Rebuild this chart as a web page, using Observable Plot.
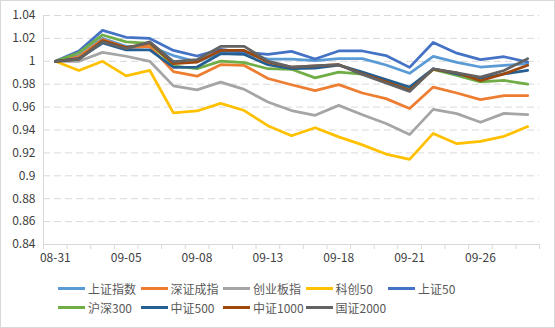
<!DOCTYPE html>
<html><head><meta charset="utf-8">
<script src="https://cdn.jsdelivr.net/npm/d3@7"></script>
<script src="https://cdn.jsdelivr.net/npm/@observablehq/plot@0.6"></script>
<style>
body{margin:0;background:#fff}
#chart{box-sizing:border-box;width:555px;height:328px;border:1px solid #d9d9d9;background:#fff;font-family:'Noto Sans CJK SC',sans-serif;overflow:hidden}
#chart svg{display:block}
#legend{display:grid;grid-template-columns:repeat(5,82.5px);padding-left:57px;margin-top:8.5px}
.item{display:flex;align-items:center;height:19px;font-size:12px;color:#595959;white-space:nowrap}
.sw{width:27px;height:3px;margin-right:3px;flex:none}
</style>
</head><body>
<div id="chart"></div>
<script>
const dates = ["08-31","09-01","09-04","09-05","09-06","09-07","09-08","09-11","09-12","09-13","09-14","09-15","09-18","09-19","09-20","09-21","09-22","09-25","09-26","09-27","09-28"];
const labelIdx = [0,3,6,9,12,15,18];
const yTicks = [0.84,0.86,0.88,0.90,0.92,0.94,0.96,0.98,1.00,1.02,1.04];
const names = ["上证指数","深证成指","创业板指","科创50","上证50","沪深300","中证500","中证1000","国证2000"];
const colors = ["#5B9BD5","#ED7D31","#A5A5A5","#FFC000","#4472C4","#70AD47","#255E91","#9E480E","#636363"];

const sh  = [1.000,1.005,1.020,1.013,1.013,1.005,0.9995,1.008,1.007,1.002,1.002,1.0006,1.0023,1.0023,0.9968,0.9895,1.0043,0.999,0.995,0.9965,0.998];
const sz  = [1.000,1.004,1.019,1.012,1.013,0.991,0.987,0.997,0.9964,0.985,0.9795,0.9744,0.9796,0.9723,0.9674,0.9587,0.9775,0.9723,0.9665,0.970,0.970];
const cyb = [1.000,1.000,1.0078,1.0044,1.000,0.9785,0.975,0.9818,0.9755,0.9644,0.957,0.9528,0.9615,0.9534,0.9456,0.936,0.958,0.9543,0.9467,0.9545,0.9534];
const kc50= [1.000,0.992,1.000,0.9873,0.992,0.955,0.9566,0.9633,0.957,0.9438,0.935,0.942,0.934,0.927,0.919,0.9144,0.937,0.928,0.930,0.9345,0.943];
const sz50= [1.000,1.009,1.027,1.021,1.020,1.0095,1.0046,1.0104,1.0078,1.006,1.0087,1.002,1.009,1.009,1.005,0.9947,1.0164,1.0071,1.0015,1.004,0.9994];
const hs300=[1.000,1.0075,1.023,1.017,1.0157,0.996,0.9935,1.0002,0.9988,0.9935,0.993,0.9855,0.9906,0.9889,0.9825,0.976,0.993,0.9877,0.982,0.9833,0.980];
const zz500=[1.000,1.0026,1.016,1.010,1.010,0.9948,0.995,1.0066,1.006,0.997,0.9935,0.994,0.9967,0.9906,0.984,0.9775,0.9935,0.989,0.985,0.989,0.992];
const zz1000=[1.000,1.002,1.018,1.012,1.016,0.998,0.9993,1.0095,1.0095,0.9993,0.995,0.996,0.997,0.989,0.982,0.9746,0.993,0.990,0.983,0.989,0.9965];
const gz2000=[1.000,1.0017,1.017,1.011,1.017,0.9997,1.0014,1.013,1.013,1.0002,0.995,0.996,0.997,0.9886,0.981,0.9737,0.9935,0.990,0.9862,0.992,1.0023];
const seriesVals = [sh,sz,cyb,kc50,sz50,hs300,zz500,zz1000,gz2000];

const data = names.flatMap((n,k)=>seriesVals[k].map((v,i)=>({name:n,i,v})));
const xMin = -0.5, xMax = dates.length - 0.5;
const boundaries = d3.range(dates.length + 1).map(i => i - 0.5);
const fmt = d => String(+d.toFixed(2));

const chart = Plot.plot({
  width: 553, height: 269,
  marginLeft: 42, marginRight: 15, marginTop: 14, marginBottom: 26,
  style: {fontFamily: "'Noto Sans CJK SC', sans-serif", fontSize: "12px", color: "#595959", background: "#fff"},
  x: {type: "linear", domain: [xMin, xMax]},
  y: {domain: [yTicks[0], yTicks[yTicks.length-1]]},
  color: {domain: names, range: colors},
  marks: [
    Plot.gridY(yTicks.slice(1), {stroke: "#d9d9d9", strokeOpacity: 1, strokeDasharray: "7,4", strokeWidth: 1}),
    Plot.ruleY([yTicks[0]], {stroke: "#d9d9d9", strokeWidth: 1}),
    Plot.ruleX([xMin], {stroke: "#d9d9d9", strokeWidth: 1}),
    Plot.axisY(yTicks, {tickSize: 0, tickPadding: 8, tickFormat: fmt, label: null, fill: "#404040"}),
    Plot.axisX(boundaries, {tickSize: 5, text: null, stroke: "#d9d9d9", label: null}),
    Plot.axisX(labelIdx, {tickSize: 0, tickPadding: 9, tickFormat: i => dates[i], label: null, fill: "#404040"}),
    Plot.line(data, {x: "i", y: "v", z: "name", stroke: "name", strokeWidth: 2.75, strokeLinejoin: "round", strokeLinecap: "round"})
  ]
});
const root = document.getElementById("chart");
root.appendChild(chart);
const legend = document.createElement("div");
legend.id = "legend";
names.forEach((n,k)=>{
  const it = document.createElement("div"); it.className = "item";
  const sw = document.createElement("span"); sw.className = "sw"; sw.style.background = colors[k];
  const tx = document.createElement("span"); tx.textContent = n;
  it.appendChild(sw); it.appendChild(tx); legend.appendChild(it);
});
root.appendChild(legend);
</script>
</body></html>
